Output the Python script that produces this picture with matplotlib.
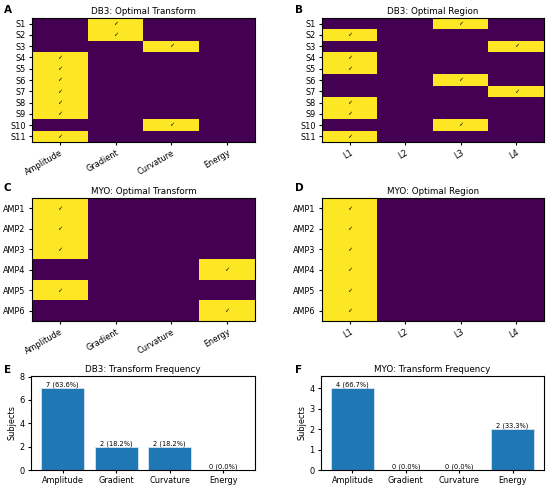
import matplotlib
matplotlib.use("Agg")
import matplotlib.pyplot as plt
import numpy as np

transforms = ["Amplitude", "Gradient", "Curvature", "Energy"]
regions = ["L1", "L2", "L3", "L4"]

db3_subjects = ["S1", "S2", "S3", "S4", "S5", "S6", "S7", "S8", "S9", "S10", "S11"]
db3_transform = ["Gradient", "Gradient", "Curvature", "Amplitude", "Amplitude", "Amplitude",
                 "Amplitude", "Amplitude", "Amplitude", "Curvature", "Amplitude"]
db3_region = ["L3", "L1", "L4", "L1", "L1", "L3", "L4", "L1", "L1", "L3", "L1"]

myo_subjects = ["AMP1", "AMP2", "AMP3", "AMP4", "AMP5", "AMP6"]
myo_transform = ["Amplitude", "Amplitude", "Amplitude", "Energy", "Amplitude", "Energy"]
myo_region = ["L1", "L1", "L1", "L1", "L1", "L1"]

FS = 5.9
TFS = 6.3


def one_hot(choices, options):
    m = np.zeros((len(choices), len(options)))
    for i, c in enumerate(choices):
        m[i, options.index(c)] = 1
    return m


def heat(ax, choices, options, subjects, title):
    m = one_hot(choices, options)
    ax.imshow(m, cmap="viridis", aspect="auto", interpolation="nearest", vmin=0, vmax=1)
    for i in range(m.shape[0]):
        for j in range(m.shape[1]):
            if m[i, j] == 1:
                ax.text(j, i, "\u2713", ha="center", va="center", fontsize=4.5, color="black")
    ax.set_xticks(range(len(options)))
    ax.set_xticklabels(options, rotation=30, ha="right", fontsize=FS, rotation_mode="anchor")
    ax.set_yticks(range(len(subjects)))
    ax.set_yticklabels(subjects, fontsize=FS)
    ax.set_title(title, fontsize=TFS, pad=3)
    ax.tick_params(length=2.5, pad=2)


def freq(ax, choices, title):
    counts = [choices.count(t) for t in transforms]
    n = len(choices)
    bars = ax.bar(transforms, counts, width=0.8, color="#1f77b4", edgecolor="#d6e6f2", linewidth=0.6)
    for b, c in zip(bars, counts):
        ax.text(b.get_x() + b.get_width() / 2, c, f"{c} ({100 * c / n:.1f}%)",
                ha="center", va="bottom", fontsize=4.8)
    ax.set_ylim(0, max(counts) * 1.15)
    ax.set_ylabel("Subjects", fontsize=FS, labelpad=2)
    ax.set_title(title, fontsize=TFS, pad=3)
    ax.tick_params(labelsize=FS, length=2.5, pad=2)


fig = plt.figure(figsize=(5.5, 4.9), dpi=100)
W, H = 550, 490


def axbox(l, r, t, b):
    return fig.add_axes([l / W, 1 - b / H, (r - l) / W, (b - t) / H])


axA = axbox(32, 255, 18, 142)
axB = axbox(322, 544, 18, 142)
axC = axbox(32, 255, 198, 321)
axD = axbox(322, 544, 198, 321)
axE = axbox(31, 255, 376, 470)
axF = axbox(321, 544, 376, 470)

heat(axA, db3_transform, transforms, db3_subjects, "DB3: Optimal Transform")
heat(axB, db3_region, regions, db3_subjects, "DB3: Optimal Region")
heat(axC, myo_transform, transforms, myo_subjects, "MYO: Optimal Transform")
heat(axD, myo_region, regions, myo_subjects, "MYO: Optimal Region")
freq(axE, db3_transform, "DB3: Transform Frequency")
freq(axF, myo_transform, "MYO: Transform Frequency")

for lab, x, y in [("A", 4, 10), ("B", 295, 10), ("C", 4, 188), ("D", 295, 188), ("E", 4, 370), ("F", 295, 370)]:
    fig.text(x / W, 1 - y / H, lab, fontsize=7.5, fontweight="bold", va="center", ha="left")

fig.savefig("out.png", dpi=100)
